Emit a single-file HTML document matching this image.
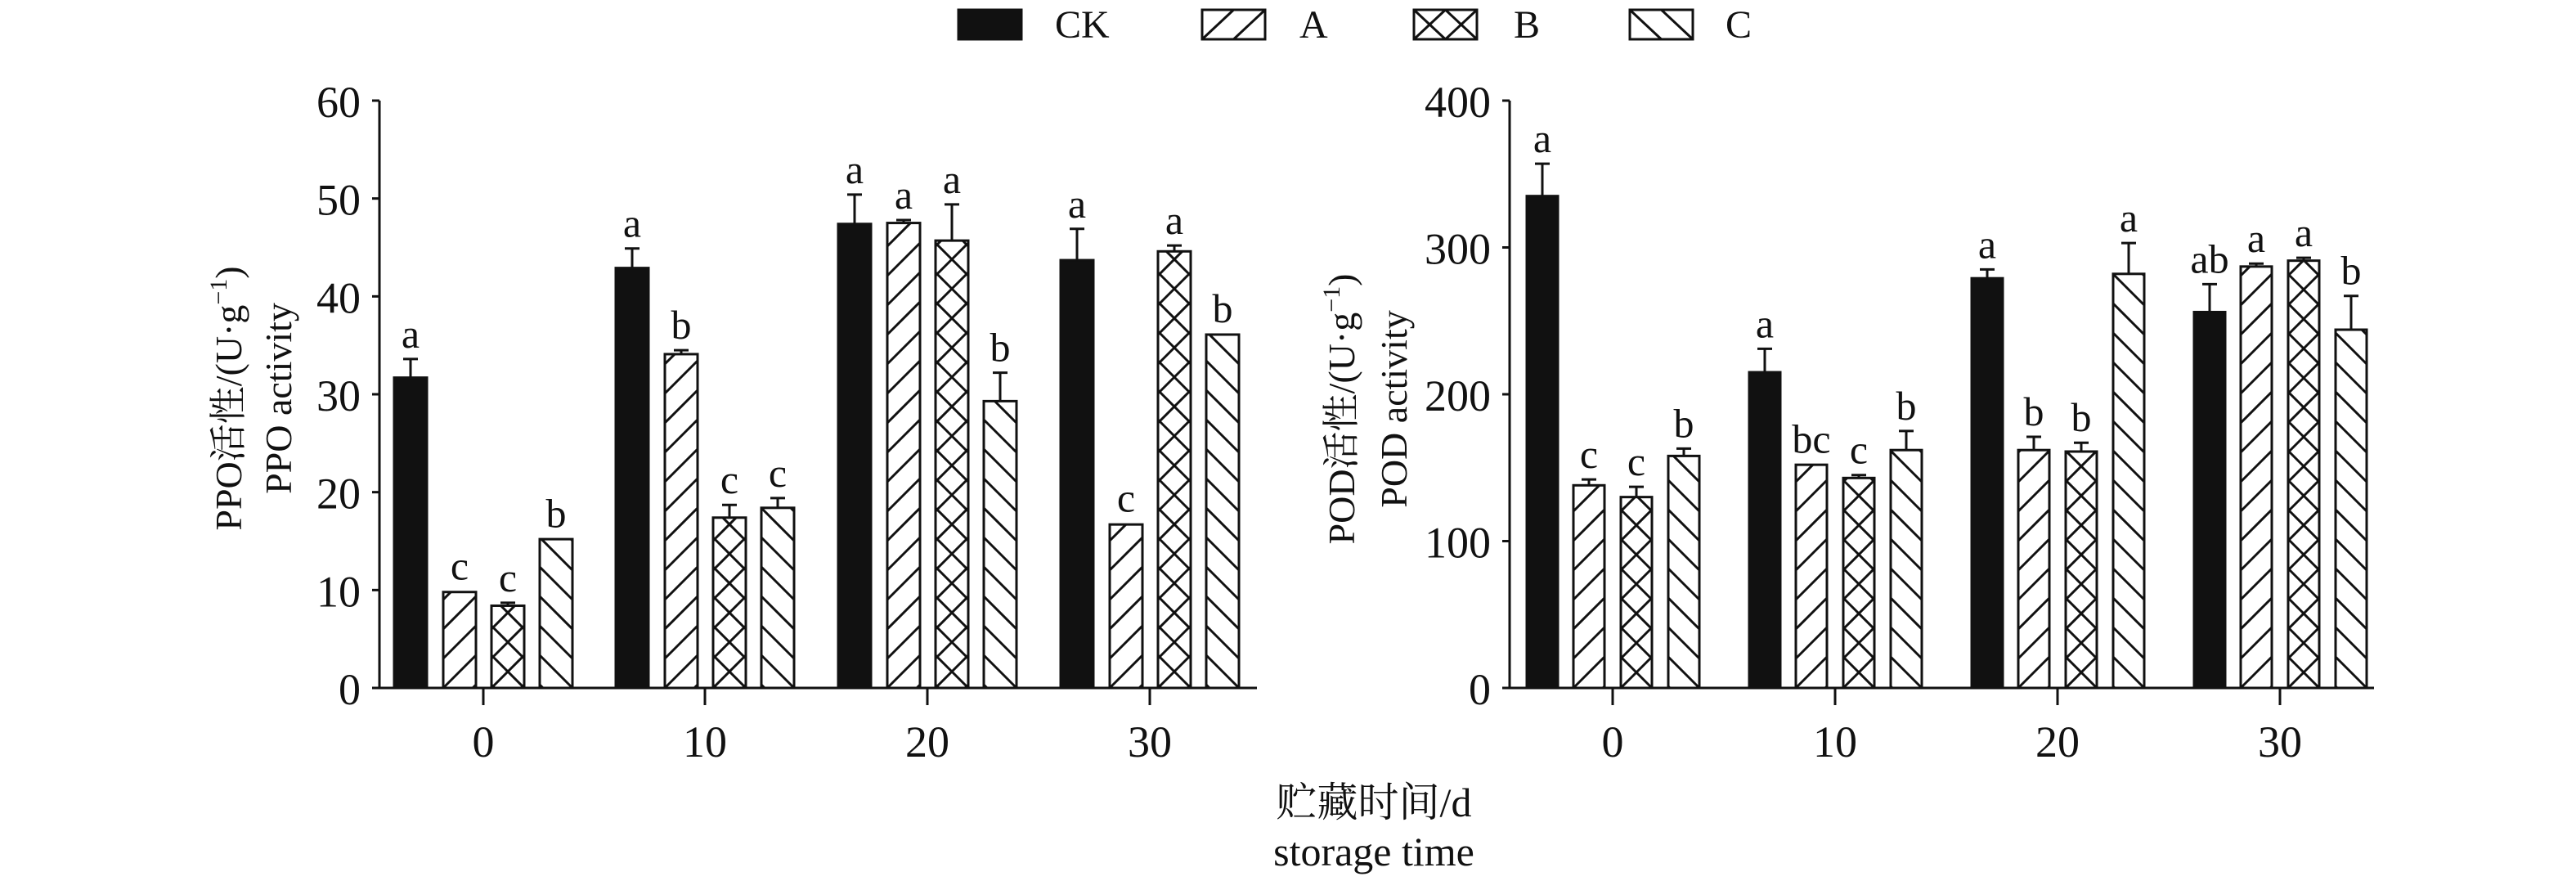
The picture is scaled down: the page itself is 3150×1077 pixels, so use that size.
<!DOCTYPE html>
<html><head><meta charset="utf-8">
<style>
html,body{margin:0;padding:0;background:#fff;}
svg{display:block;}
text{font-family:"Liberation Serif","Noto Serif CJK SC",serif;fill:#111;}
</style></head>
<body>
<svg id="s" width="3150" height="1077" xmlns="http://www.w3.org/2000/svg">
<g id="g" stroke="#111" stroke-width="3" fill="none"></g>
<g font-size="50" text-anchor="middle">
<text x="281" y="487" font-size="46" transform="rotate(-90 281 487)" dy="14">PPO活性/(U·g<tspan font-size="30" dy="-18">−1</tspan><tspan dy="18">)</tspan></text>
<text x="342" y="487" font-size="46" transform="rotate(-90 342 487)" dy="14">PPO activity</text>
<text x="1642" y="500" font-size="46" transform="rotate(-90 1642 500)" dy="14">POD活性/(U·g<tspan font-size="30" dy="-18">−1</tspan><tspan dy="18">)</tspan></text>
<text x="1706" y="500" font-size="46" transform="rotate(-90 1706 500)" dy="14">POD activity</text>
<text x="1680" y="998" font-size="50">贮藏时间/d</text>
<text x="1680" y="1058" font-size="50">storage time</text>
<text x="1290" y="46" font-size="48" text-anchor="start">CK</text>
<text x="1589" y="46" font-size="48" text-anchor="start">A</text>
<text x="1851" y="46" font-size="48" text-anchor="start">B</text>
<text x="2110" y="46" font-size="48" text-anchor="start">C</text>
</g>
<g id="t" font-size="50"></g>
</svg>
<script>
var NS="http://www.w3.org/2000/svg";
var g=document.getElementById('g'),t=document.getElementById('t');
function el(p,tag,a,txt){var e=document.createElementNS(NS,tag);for(var k in a)e.setAttribute(k,a[k]);if(txt!=null)e.textContent=txt;p.appendChild(e);return e;}
function line(x1,y1,x2,y2){el(g,'line',{x1:x1,y1:y1,x2:x2,y2:y2});}
function hatch(type,x,y,w,h){
  var P=36, R=w, s='';
  if(type==0){el(g,'rect',{x:x,y:y,width:w,height:h,fill:'#111'});return;}
  var dirs=type==1?[1]:type==3?[-1]:[1,-1];
  dirs.forEach(function(d){
    for(var k=-3;k*P<h+P*3;k++){
      var yb=y+h-k*P;
      var xa=x,xb=x+w,ya=yb,yb2=yb-R;
      if(d==-1){ya=yb-R;yb2=yb;}
      var t0=0,t1=1,dx=xb-xa,dy=yb2-ya;
      function cl(p,q){if(p==0)return q>=0;var r=q/p;if(p<0){if(r>t1)return false;if(r>t0)t0=r;}else{if(r<t0)return false;if(r<t1)t1=r;}return true;}
      if(cl(-dy,ya-y)&&cl(dy,y+h-ya)){if(t1>t0)s+='M'+(xa+t0*dx)+' '+(ya+t0*dy)+'L'+(xa+t1*dx)+' '+(ya+t1*dy);}
    }
  });
  el(g,'path',{d:s});
  el(g,'rect',{x:x,y:y,width:w,height:h});
}
function chart(ax,y0,ytop,xend,max,step,ticks,grp,off,bw,data,lbl){
  var sc=(y0-ytop)/max;
  line(ax,ytop,ax,y0+1.5);line(ax-1.5,y0,xend,y0);
  for(var v=0;v<=max;v+=step){var yy=y0-v*sc;line(ax-9,yy,ax,yy);el(t,'text',{x:ax-23,y:yy+20,'text-anchor':'end','font-size':54},String(v));}
  ticks.forEach(function(v,i){line(grp[i],y0,grp[i],y0+21);el(t,'text',{x:grp[i],y:y0+84,'text-anchor':'middle','font-size':54},v);});
  data.forEach(function(gd,i){gd.forEach(function(b,j){
    var x=grp[i]+off[j],h=b[0]*sc,top=y0-h;
    hatch(j,x,top,bw,h);
    var et=top-b[1]*sc;
    if(b[1]*sc>2){line(x+bw/2,top,x+bw/2,et);line(x+bw/2-9,et,x+bw/2+9,et);}
    el(t,'text',{x:x+bw/2,y:et-14,'text-anchor':'middle'},lbl[i][j]);
  });});
}
chart(464,841,123,1537,60,10,['0','10','20','30'],[591,862,1134,1406],[-109,-49,10,69],40,
[[[31.7,1.9],[9.8,0.1],[8.4,0.3],[15.2,0.05]],
 [[42.9,2.0],[34.1,0.4],[17.4,1.3],[18.4,1.0]],
 [[47.4,3.0],[47.5,0.3],[45.7,3.7],[29.3,2.9]],
 [[43.7,3.2],[16.7,0.15],[44.6,0.6],[36.1,0.1]]],
[['a','c','c','b'],['a','b','c','c'],['a','a','a','b'],['a','c','a','b']]);
chart(1846,841,123,2903,400,100,['0','10','20','30'],[1972,2244,2516,2788],[-105,-48,10,68],38,
[[[335,22],[138,4],[130,7],[158,5]],
 [[215,16],[152,0.5],[143,2],[162,13]],
 [[279,6],[162,9],[161,6],[282,21]],
 [[256,19],[287,2],[291,2],[244,23]]],
[['a','c','c','b'],['a','bc','c','b'],['a','b','b','a'],['ab','a','a','b']]);
[[1172,0],[1470,1],[1729,2],[1993,3]].forEach(function(l){
  var x=l[0],y=12,w=77,h=36;
  if(l[1]==0){el(g,'rect',{x:x,y:y,width:w,height:h,fill:'#111'});return;}
  var s='';var dirs=l[1]==1?[1]:l[1]==3?[-1]:[1,-1];
  dirs.forEach(function(d){for(var k=0;k<2;k++){var xa=x+k*38.5;if(d==1)s+='M'+xa+' '+(y+h)+'L'+(xa+38.5)+' '+y;else s+='M'+xa+' '+y+'L'+(xa+38.5)+' '+(y+h);}});
  el(g,'path',{d:s});el(g,'rect',{x:x,y:y,width:w,height:h});
});
</script>
</body></html>
